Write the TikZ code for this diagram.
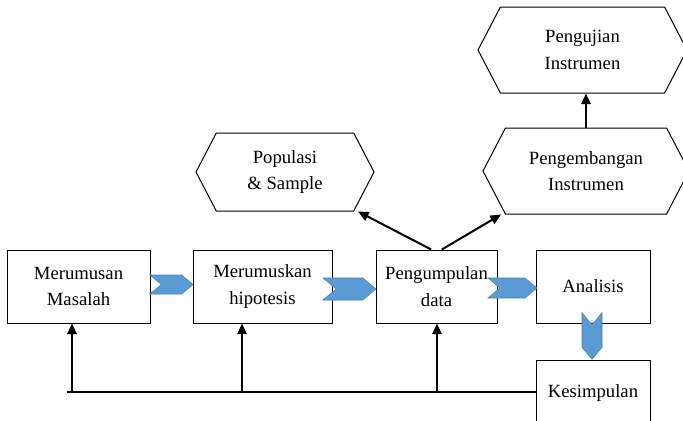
\documentclass[tikz,border=0pt]{standalone}
\usepackage{fontspec}
\setmainfont{Liberation Serif}
\usetikzlibrary{shapes.symbols,arrows.meta}

\definecolor{chevblue}{RGB}{91,155,213}
\definecolor{chevedge}{RGB}{70,125,180}

\tikzset{every picture/.style={line width=0.75pt}}
\tikzset{
  stepbox/.style={draw, rectangle, inner sep=0.75pt, align=center,
    font=\fontsize{14}{20}\selectfont, minimum height=54.75pt},
  hexbox/.style={draw, signal, signal to=east and west, signal pointer angle=125,
    inner sep=0.75pt, align=center, font=\fontsize{14}{20}\selectfont},
  chev/.style={signal, fill=chevblue, draw=chevedge, line width=0.4pt,
    signal pointer angle=80, inner sep=0pt},
  arr/.style={line width=1.5pt, -{Triangle[length=8pt,width=7pt]}}
}

\begin{document}
\begin{tikzpicture}[x=0.75pt,y=0.75pt,yscale=-1,xscale=1]
\useasboundingbox (0,0) rectangle (683,421);
\clip (0,0) rectangle (683,421);

% Boxes
\node [stepbox, minimum width=107.25pt] (masalah) at (78.5,286.5) {Merumusan\\Masalah};
\node [stepbox, minimum width=104.25pt] (hipotesis) at (262.5,286.5) {Merumuskan\\hipotesis};
\node [stepbox, minimum width=90.75pt] (data) at (436.5,286.5) {Pengumpulan\\data};
\node [stepbox, minimum width=85.5pt] (analisis) at (593,286.5) {Analisis};
\node [stepbox, minimum width=85.5pt, minimum height=49.5pt] (kesimpulan) at (593,393) {Kesimpulan};

% Hexagons
\node [hexbox, minimum width=133.5pt, minimum height=58.5pt] (populasi) at (285,172) {Populasi\\\& Sample};
\node [hexbox, minimum width=154.5pt, minimum height=64.5pt] (pengembangan) at (586,171) {Pengembangan\\Instrumen};
\node [hexbox, minimum width=156.75pt, minimum height=64.5pt] (pengujian) at (582.5,50) {Pengujian\\Instrumen};

% Chevrons
\node [chev, signal from=west, signal to=east, minimum width=32.25pt, minimum height=14.25pt] (chevA) at (171.5,284.5) {};
\node [chev, signal from=west, signal to=east, minimum width=39.75pt, minimum height=16.5pt] (chevB) at (349.5,289) {};
\node [chev, signal from=west, signal to=east, minimum width=36.75pt, minimum height=15pt] (chevC) at (512.5,288) {};
\node [chev, signal from=north, signal to=south, minimum width=15pt, minimum height=17pt] (chevD) at (592,336) {};

% Arrows up to the hexagons
\draw [arr] ([xshift=-4]data.north) -- ([xshift=3]populasi.south east);
\draw [arr] ([xshift=4]data.north) -- ([xshift=-3]pengembangan.south west);
\draw [arr] (pengembangan.north) -- (pengembangan.north |- pengujian.south);

% Feedback line
\coordinate (fbend) at (67,392);
\coordinate (upA) at (72,392);
\coordinate (upB) at (242,392);
\coordinate (upC) at (437,392);
\draw [line width=1pt] (kesimpulan.west |- fbend) -- (fbend);
\draw [arr] (upA) -- (upA |- masalah.south);
\draw [arr] (upB) -- (upB |- hipotesis.south);
\draw [arr] (upC) -- (upC |- data.south);

\end{tikzpicture}
\end{document}
